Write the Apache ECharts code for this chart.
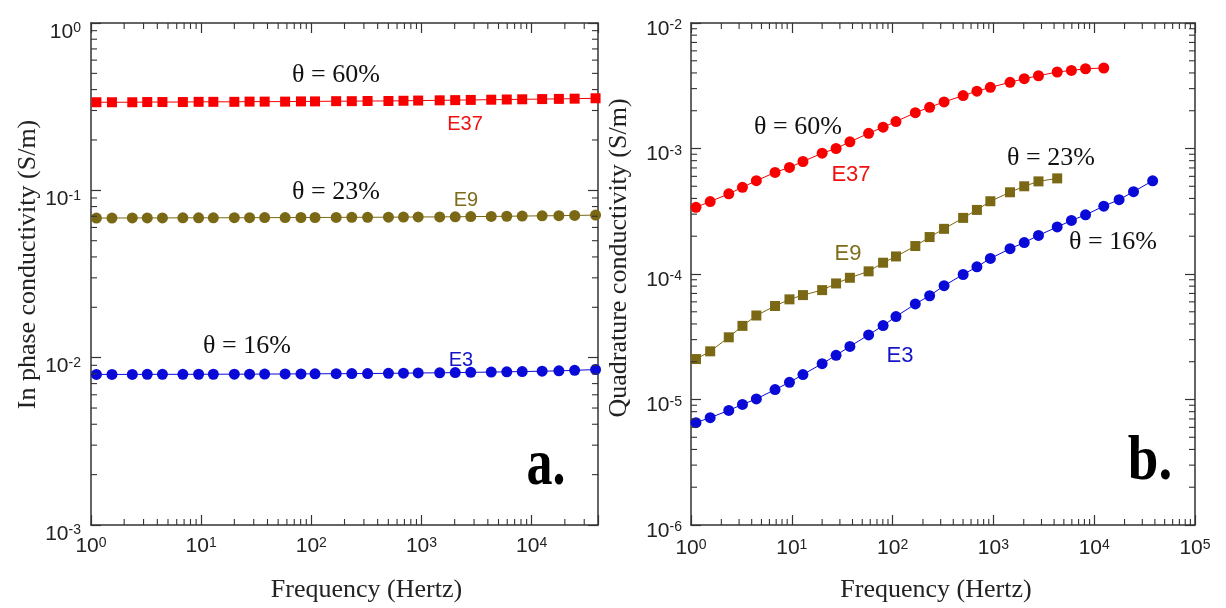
<!DOCTYPE html>
<html>
<head>
<meta charset="utf-8">
<script src="https://cdn.jsdelivr.net/npm/echarts@6/dist/echarts.min.js"></script>
<style>html,body{margin:0;padding:0;background:#fff;}#c{width:1226px;height:608px;}</style>
</head>
<body>
<div id="c"></div>
<script>
// ---- data (frequency in Hz, conductivity in S/m) ----
const freqs = [1.12, 1.55, 2.37, 3.24, 4.45, 6.82, 9.48, 12.9, 20.0, 27.5, 37.7, 57.8, 80.5, 108, 168,
  233, 324, 501, 686, 933, 1462, 2023, 2800, 4295, 5943, 8204, 12445, 17660, 24547, 38019];

// panel a: in phase conductivity
const inPhaseE37 = [0.336, 0.336, 0.336, 0.337, 0.337, 0.337, 0.338, 0.338, 0.338, 0.339, 0.339, 0.339, 0.340, 0.340, 0.341,
  0.341, 0.342, 0.342, 0.343, 0.344, 0.345, 0.346, 0.347, 0.348, 0.349, 0.350, 0.351, 0.352, 0.353, 0.355];
const inPhaseE9 = [0.0683, 0.0683, 0.0684, 0.0684, 0.0684, 0.0685, 0.0685, 0.0685, 0.0686, 0.0686, 0.0687, 0.0687, 0.0688, 0.0688, 0.0689,
  0.0690, 0.0690, 0.0691, 0.0692, 0.0693, 0.0694, 0.0695, 0.0697, 0.0698, 0.0700, 0.0702, 0.0704, 0.0706, 0.0708, 0.0711];
const inPhaseE3 = [0.00794, 0.00794, 0.00794, 0.00795, 0.00795, 0.00795, 0.00796, 0.00796, 0.00797, 0.00797, 0.00798, 0.00799, 0.00800, 0.00801, 0.00802,
  0.00803, 0.00804, 0.00806, 0.00808, 0.00810, 0.00812, 0.00814, 0.00817, 0.00820, 0.00823, 0.00826, 0.00830, 0.00834, 0.00840, 0.00849];

// panel b: quadrature conductivity
const quadE37 = [3.40e-4, 3.78e-4, 4.35e-4, 4.91e-4, 5.54e-4, 6.45e-4, 7.07e-4, 7.88e-4, 9.17e-4, 1.00e-3, 1.13e-3, 1.32e-3, 1.48e-3, 1.64e-3,
  1.93e-3, 2.13e-3, 2.35e-3, 2.64e-3, 2.86e-3, 3.07e-3, 3.37e-3, 3.60e-3, 3.80e-3, 4.07e-3, 4.19e-3, 4.32e-3, 4.38e-3];
const quadE9 = [2.10e-5, 2.42e-5, 3.13e-5, 3.86e-5, 4.67e-5, 5.56e-5, 6.28e-5, 6.79e-5, 7.44e-5, 8.41e-5, 9.33e-5, 1.05e-4, 1.23e-4, 1.38e-4,
  1.67e-4, 1.97e-4, 2.29e-4, 2.80e-4, 3.24e-4, 3.80e-4, 4.48e-4, 5.00e-4, 5.47e-4, 5.78e-4];
const quadE3 = [6.54e-6, 7.17e-6, 8.18e-6, 9.14e-6, 1.01e-5, 1.20e-5, 1.37e-5, 1.58e-5, 1.93e-5, 2.25e-5, 2.65e-5, 3.27e-5, 3.88e-5, 4.58e-5,
  5.77e-5, 6.71e-5, 8.07e-5, 9.91e-5, 1.14e-4, 1.33e-4, 1.59e-4, 1.78e-4, 2.03e-4, 2.37e-4, 2.67e-4, 2.96e-4, 3.47e-4, 3.91e-4, 4.53e-4, 5.53e-4];

// tick labels (exponents of 10)
const xTicksA = ['0', '1', '2', '3', '4'];
const yTicksA = ['-3', '-2', '-1', '0'];
const xTicksB = ['0', '1', '2', '3', '4', '5'];
const yTicksB = ['-6', '-5', '-4', '-3', '-2'];

const annotations = [
  {text: 'θ = 60%', x: 336, y: 75, size: 26, color: '#111', family: 'Liberation Serif'},
  {text: 'E37', x: 465, y: 124, size: 20, color: '#f01010', family: 'Liberation Sans'},
  {text: 'θ = 23%', x: 336, y: 192, size: 26, color: '#111', family: 'Liberation Serif'},
  {text: 'E9', x: 466, y: 200, size: 20, color: '#7d6c1c', family: 'Liberation Sans'},
  {text: 'θ = 16%', x: 247, y: 346, size: 26, color: '#111', family: 'Liberation Serif'},
  {text: 'E3', x: 461, y: 360, size: 20, color: '#1515c8', family: 'Liberation Sans'},
  {text: 'θ = 60%', x: 798, y: 127, size: 26, color: '#111', family: 'Liberation Serif'},
  {text: 'E37', x: 851, y: 175, size: 22, color: '#f01010', family: 'Liberation Sans'},
  {text: 'E9', x: 848, y: 254, size: 22, color: '#7d6c1c', family: 'Liberation Sans'},
  {text: 'E3', x: 900, y: 356, size: 22, color: '#1515c8', family: 'Liberation Sans'},
  {text: 'θ = 23%', x: 1051, y: 158, size: 26, color: '#111', family: 'Liberation Serif'},
  {text: 'θ = 16%', x: 1113, y: 242, size: 26, color: '#111', family: 'Liberation Serif'}
];

const RED = '#f80000', OLIVE = '#7a6814', BLUE = '#0a0ad8', AX = '#333';

function pairs(xs, ys) { return ys.map((y, i) => [xs[i], y]); }

function supFormatter(list) {
  return function (v) {
    const l = Math.log10(v), e = Math.round(l);
    if (Math.abs(l - e) > 1e-6) return '';
    const s = String(e);
    if (list.indexOf(s) < 0) return '';
    return '{b|10}{s|' + s + '}';
  };
}
function makeRich(raise) {
  return {
    b: {fontSize: 21, fontFamily: 'Liberation Sans', color: '#222', lineHeight: 21, verticalAlign: 'bottom'},
    s: {fontSize: 14, fontFamily: 'Liberation Sans', color: '#222', lineHeight: 14, verticalAlign: 'top', padding: [0, 0, raise, 0]}
  };
}
const nameStyle = {fontFamily: 'Liberation Serif', fontSize: 26, color: '#222'};

function axis(grid, min, max, position, labels, labelExtra, extra) {
  return Object.assign({
    type: 'log', logBase: 10, gridIndex: grid, min: min, max: max, position: position,
    axisLine: {show: true, onZero: false, lineStyle: {color: AX, width: 1.5}},
    axisTick: {show: true, inside: true, length: 10, lineStyle: {color: AX, width: 1.2}},
    minorTick: {show: false},
    splitLine: {show: false},
    axisLabel: labels ? Object.assign({show: true, formatter: supFormatter(labels), margin: 10, showMaxLabel: true, showMinLabel: true}, labelExtra)
                      : {show: false}
  }, extra || {});
}

function minorValues(lo, hi) {
  const out = [];
  for (let k = lo; k < hi; k++) for (let m = 2; m <= 9; m++) out.push(m * Math.pow(10, k));
  return out;
}

function minorTicks(xi, yi, xMin, xMax, yMin, yMax) {
  const xs = minorValues(Math.floor(Math.log10(xMin)), Math.ceil(Math.log10(xMax))).filter(v => v < xMax);
  const ys = minorValues(Math.floor(Math.log10(yMin)), Math.ceil(Math.log10(yMax))).filter(v => v < yMax);
  return {
    type: 'custom', xAxisIndex: xi, yAxisIndex: yi, silent: true, clip: false, z: 5,
    data: [[xMin, yMin]],
    renderItem: function (params, api) {
      const cs = params.coordSys;
      const st = {stroke: AX, lineWidth: 1.1};
      const ch = [];
      const L = 6;
      xs.forEach(v => {
        const px = api.coord([v, yMax])[0];
        ch.push({type: 'line', shape: {x1: px, y1: cs.y + cs.height, x2: px, y2: cs.y + cs.height - L}, style: st});
        ch.push({type: 'line', shape: {x1: px, y1: cs.y, x2: px, y2: cs.y + L}, style: st});
      });
      ys.forEach(v => {
        const py = api.coord([xMin, v])[1];
        ch.push({type: 'line', shape: {x1: cs.x, y1: py, x2: cs.x + L, y2: py}, style: st});
        ch.push({type: 'line', shape: {x1: cs.x + cs.width, y1: py, x2: cs.x + cs.width - L, y2: py}, style: st});
      });
      return {type: 'group', children: ch};
    }
  };
}

function line(xi, yi, data, color, symbol, size) {
  return {
    type: 'line', xAxisIndex: xi, yAxisIndex: yi, data: data, symbol: symbol, symbolSize: size,
    showAllSymbol: true, itemStyle: {color: color}, lineStyle: {color: color, width: 1}, z: 3, silent: true
  };
}

const chart = echarts.init(document.getElementById('c'), null, {renderer: 'canvas'});
const option = {
  animation: false,
  backgroundColor: '#ffffff',
  grid: [
    {left: 91, top: 23, width: 507, height: 505},
    {left: 691, top: 23, width: 504, height: 505}
  ],
  xAxis: [
    axis(0, 1, 40000, 'bottom', xTicksA, {rich: makeRich(16), margin: 11}, {name: 'Frequency (Hertz)', nameLocation: 'middle', nameGap: 52,
      nameTextStyle: Object.assign({padding: [0, 0, 0, 44]}, nameStyle)}),
    axis(0, 1, 40000, 'top', null),
    axis(1, 1, 100000, 'bottom', xTicksB, {rich: makeRich(16), margin: 13}, {name: 'Frequency (Hertz)', nameLocation: 'middle', nameGap: 52,
      nameTextStyle: Object.assign({padding: [0, 14, 0, 0]}, nameStyle)}),
    axis(1, 1, 100000, 'top', null)
  ],
  yAxis: [
    axis(0, 0.001, 1, 'left', yTicksA, {rich: makeRich(14), padding: [18, 0, 0, 0], margin: 10}, {name: 'In phase conductivity (S/m)', nameLocation: 'middle', nameGap: 50,
      nameTextStyle: Object.assign({padding: [0, 0, 0, 19]}, nameStyle)}),
    axis(0, 0.001, 1, 'right', null),
    axis(1, 1e-6, 1e-2, 'left', yTicksB, {rich: makeRich(16), padding: [12, 0, 0, 0], margin: 9}, {name: 'Quadrature conductivity (S/m)', nameLocation: 'middle', nameGap: 59,
      nameTextStyle: Object.assign({padding: [0, 0, 0, 32]}, nameStyle)}),
    axis(1, 1e-6, 1e-2, 'right', null)
  ],
  series: [
    minorTicks(0, 0, 1, 40000, 0.001, 1),
    minorTicks(2, 2, 1, 100000, 1e-6, 1e-2),
    line(0, 0, pairs(freqs, inPhaseE37), RED, 'rect', 10),
    line(0, 0, pairs(freqs, inPhaseE9), OLIVE, 'circle', 11),
    line(0, 0, pairs(freqs, inPhaseE3), BLUE, 'circle', 11),
    line(2, 2, pairs(freqs, quadE37), RED, 'circle', 11),
    line(2, 2, pairs(freqs, quadE9), OLIVE, 'rect', 10),
    line(2, 2, pairs(freqs, quadE3), BLUE, 'circle', 11)
  ],
  graphic: annotations.map(a => ({
    type: 'text', x: a.x, y: a.y, z: 10, silent: true,
    style: {text: a.text, fontSize: a.size, fontFamily: a.family, fill: a.color, align: 'center', verticalAlign: 'middle'}
  })).concat([
    {type: 'text', x: 546, y: 467, scaleY: 1.25, z: 10, silent: true,
      style: {text: 'a.', fontSize: 52, fontWeight: 'bold', fontFamily: 'Liberation Serif', fill: '#000', align: 'center', verticalAlign: 'middle'}},
    {type: 'text', x: 1150, y: 463, scaleY: 1.15, z: 10, silent: true,
      style: {text: 'b.', fontSize: 55, fontWeight: 'bold', fontFamily: 'Liberation Serif', fill: '#000', align: 'center', verticalAlign: 'middle'}}
  ])
};
chart.setOption(option);
</script>
</body>
</html>
